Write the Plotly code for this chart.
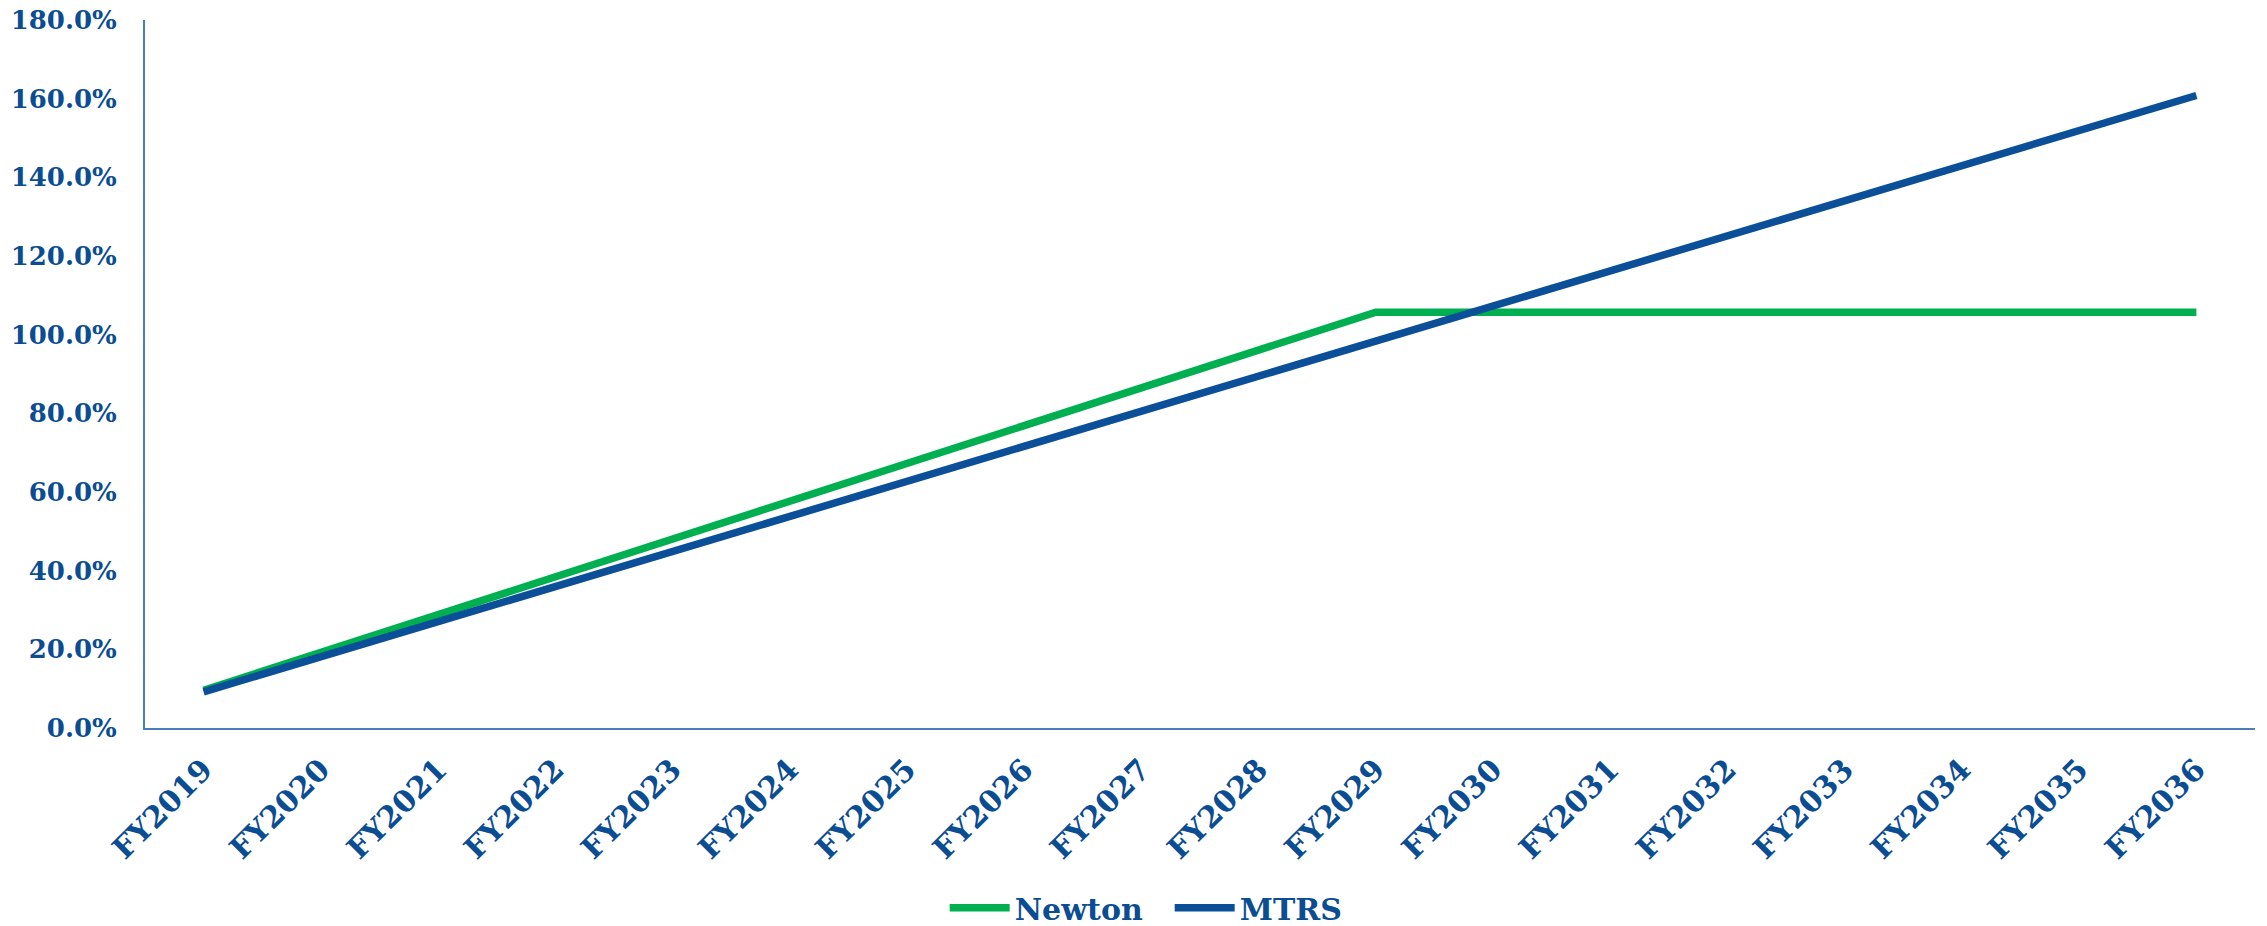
import plotly.graph_objects as go

# Fiscal years on the category axis
years = ["FY2019", "FY2020", "FY2021", "FY2022", "FY2023", "FY2024",
         "FY2025", "FY2026", "FY2027", "FY2028", "FY2029", "FY2030",
         "FY2031", "FY2032", "FY2033", "FY2034", "FY2035", "FY2036"]

# Cumulative percentages per series
newton = [9.6, 19.2, 28.8, 38.4, 48.0, 57.7, 67.3, 76.9, 86.5, 96.1,
          105.7, 105.7, 105.7, 105.7, 105.7, 105.7, 105.7, 105.7]
mtrs = [9.2, 18.1, 27.0, 35.9, 44.9, 53.8, 62.7, 71.6, 80.5, 89.4,
        98.3, 107.2, 116.2, 125.1, 134.0, 142.9, 151.8, 160.8]

y_ticks = [0, 20, 40, 60, 80, 100, 120, 140, 160, 180]
y_labels = [f"{v:.1f}%" for v in y_ticks]

TEXT_BLUE = "#0B4D92"
AXIS_BLUE = "#4A7EBB"
FONT = "DejaVu Serif"

x_idx = list(range(len(years)))

fig = go.Figure()
fig.add_trace(go.Scatter(x=x_idx, y=newton, name="Newton", mode="lines",
                         line=dict(color="#00B050", width=7.5)))
fig.add_trace(go.Scatter(x=x_idx, y=mtrs, name="MTRS", mode="lines",
                         line=dict(color="#0B4F98", width=7.5)))

fig.update_layout(
    width=2267, height=926,
    margin=dict(l=145, r=12, t=20, b=198, autoexpand=False),
    plot_bgcolor="white", paper_bgcolor="white",
    font=dict(family=FONT, color=TEXT_BLUE, size=26, weight="bold"),
    showlegend=True,
    legend=dict(orientation="h", x=0.379, xanchor="left", y=-0.254,
                yanchor="middle", itemwidth=60, entrywidth=150,
                font=dict(size=30, family=FONT, color=TEXT_BLUE,
                          weight="bold")),
)

fig.update_xaxes(
    range=[-0.5, len(years) - 0.5], automargin=False,
    tickmode="array", tickvals=x_idx, ticktext=years,
    tickangle=-45, ticks="", ticklabelstandoff=10,
    showgrid=False, zeroline=False,
    showline=True, linecolor=AXIS_BLUE, linewidth=2,
    tickfont=dict(size=30, family=FONT, color=TEXT_BLUE, weight="bold"),
)
fig.update_yaxes(
    range=[0, 180], automargin=False,
    tickmode="array", tickvals=y_ticks, ticktext=y_labels,
    ticks="", ticklabelstandoff=21,
    showgrid=False, zeroline=False,
    showline=True, linecolor=AXIS_BLUE, linewidth=2,
    tickfont=dict(size=26, family=FONT, color=TEXT_BLUE, weight="bold"),
)

fig.write_html("out.html")
